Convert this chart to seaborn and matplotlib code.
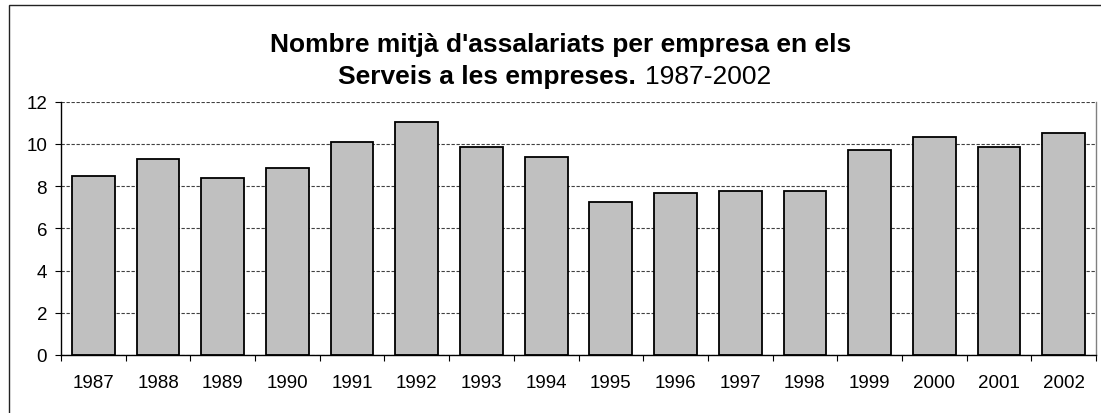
import matplotlib
matplotlib.use("Agg")
import matplotlib.pyplot as plt
import seaborn as sns
import pandas as pd
from matplotlib.patches import Rectangle
from matplotlib.ticker import FixedLocator

# --- data ---
years = ["1987", "1988", "1989", "1990", "1991", "1992", "1993", "1994",
         "1995", "1996", "1997", "1998", "1999", "2000", "2001", "2002"]
values = [8.5, 9.27, 8.39, 8.88, 10.09, 11.06, 9.84, 9.37,
          7.27, 7.69, 7.76, 7.76, 9.70, 10.33, 9.84, 10.5]
yticks = [0, 2, 4, 6, 8, 10, 12]

title_line1 = "Nombre mitjà d'assalariats per empresa en els"
title_bold2 = "Serveis a les empreses."
title_norm2 = "1987-2002"

df = pd.DataFrame({"year": years, "value": values})

sns.set_style("white")
plt.rcParams["font.family"] = ["Liberation Sans", "DejaVu Sans"]
plt.rcParams["text.color"] = "black"
plt.rcParams["xtick.color"] = "black"
plt.rcParams["ytick.color"] = "black"

W, H = 1101, 414
fig = plt.figure(figsize=(W / 100, H / 100), dpi=100)
ax = fig.add_axes([61 / W, 1 - 356 / H, (1096 - 61) / W, (356 - 102.7) / H])

sns.barplot(data=df, x="year", y="value", color="#C0C0C0", edgecolor="black",
            linewidth=1.3, width=0.66, saturation=1, ax=ax)

ax.set_ylim(0, 12)
ax.set_xlim(-0.5, len(years) - 0.5)
ax.set_yticks(yticks)
ax.set_xlabel("")
ax.set_ylabel("")

# dashed gridlines behind the bars
ax.set_axisbelow(True)
ax.yaxis.grid(True, color="#404040", linestyle=(0, (3, 1.5)), linewidth=0.8)
ax.xaxis.grid(False)

# category boundary ticks on x
ax.xaxis.set_minor_locator(FixedLocator([i - 0.5 for i in range(len(years) + 1)]))
ax.tick_params(axis="x", which="major", length=0, pad=14, labelsize=13.5)
ax.tick_params(axis="x", which="minor", length=4, width=0.8, color="black", bottom=True)
ax.tick_params(axis="y", which="major", length=4, width=0.8, color="black", left=True,
               pad=6, labelsize=13.5)

for side in ["left", "bottom"]:
    ax.spines[side].set_color("black")
    ax.spines[side].set_linewidth(1.0)
ax.spines["top"].set_visible(False)
ax.spines["right"].set_color("#808080")
ax.spines["right"].set_linewidth(1.0)

# outer chart frame (runs off the right and bottom of the image)
fig.patches.append(Rectangle((8.7 / W, -0.2), 1.5, 1.2 - 5.7 / H, transform=fig.transFigure,
                             fill=False, edgecolor="#222222", linewidth=1.0, clip_on=False))

# title, two lines, second line mixes bold and regular
fig.text(561 / W, 1 - 52 / H, title_line1, ha="center", va="baseline",
         fontsize=19, fontweight="bold")
fig.text(636 / W, 1 - 84 / H, title_bold2, ha="right", va="baseline",
         fontsize=19, fontweight="bold")
fig.text(645 / W, 1 - 84 / H, title_norm2, ha="left", va="baseline", fontsize=19)

fig.savefig("out.png", dpi=100)
